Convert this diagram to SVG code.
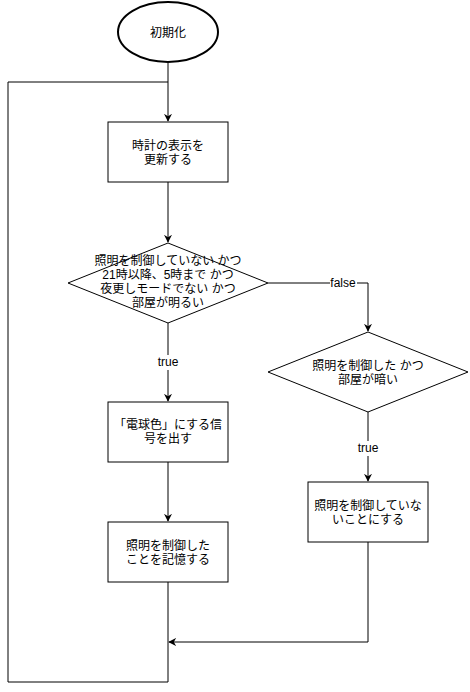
<svg xmlns="http://www.w3.org/2000/svg" width="470" height="692" viewBox="0 0 470 692">
<style>
.s{fill:#fff;stroke:#000;stroke-width:1}
.t{font-family:"Liberation Sans","Noto Sans CJK JP",sans-serif;font-size:12px;fill:#000;text-anchor:middle;dominant-baseline:central}
.c{fill:none;stroke:#000;stroke-width:1}
</style>
<defs>
<marker id="a" viewBox="0 0 10 10" refX="9" refY="5" markerWidth="8" markerHeight="8" markerUnits="userSpaceOnUse" orient="auto">
<path d="M0,0 L10,5 L0,10 L3,5 Z" fill="#000"/>
</marker>
</defs>
<rect width="470" height="692" fill="#fff"/>
<g id="connectors">
<path class="c" d="M168,63 V121" marker-end="url(#a)"/>
<path class="c" d="M168,182 V242" marker-end="url(#a)"/>
<path class="c" d="M168,323 V401" marker-end="url(#a)"/>
<path class="c" d="M268,283 H368 V331" marker-end="url(#a)"/>
<path class="c" d="M368,412 V481" marker-end="url(#a)"/>
<path class="c" d="M168,462 V521" marker-end="url(#a)"/>
<path class="c" d="M368,542 V642 H169" marker-end="url(#a)"/>
<path class="c" d="M168,582 V682 H8 V82 H168"/>
<rect x="155" y="355" width="26" height="15" fill="#fff"/>
<text class="t" x="168" y="362">true</text>
<rect x="330" y="276" width="27" height="15" fill="#fff"/>
<text class="t" x="343" y="283">false</text>
<rect x="355" y="441" width="26" height="15" fill="#fff"/>
<text class="t" x="368" y="448">true</text>
</g>
<g id="start">
<ellipse class="s" cx="168" cy="32" rx="50" ry="30" style="stroke-width:2"/>
<text class="t" x="168" y="33">初期化</text>
</g>
<g id="update-clock">
<rect class="s" x="108" y="122" width="120" height="60"/>
<text class="t" x="168" y="146">時計の表示を</text>
<text class="t" x="168" y="160">更新する</text>
</g>
<g id="cond1">
<path class="s" d="M168,243 L268,283 L168,323 L68,283 Z"/>
<text class="t" x="168" y="261">照明を制御していない かつ</text>
<text class="t" x="168" y="275">21時以降、5時まで かつ</text>
<text class="t" x="168" y="289">夜更しモードでない かつ</text>
<text class="t" x="168" y="303">部屋が明るい</text>
</g>
<g id="cond2">
<path class="s" d="M368,332 L468,372 L368,412 L268,372 Z"/>
<text class="t" x="368" y="366">照明を制御した かつ</text>
<text class="t" x="368" y="380">部屋が暗い</text>
</g>
<g id="signal">
<rect class="s" x="108" y="402" width="120" height="60"/>
<text class="t" x="168" y="425">「電球色」にする信</text>
<text class="t" x="168" y="439">号を出す</text>
</g>
<g id="remember">
<rect class="s" x="108" y="522" width="120" height="60"/>
<text class="t" x="168" y="546">照明を制御した</text>
<text class="t" x="168" y="560">ことを記憶する</text>
</g>
<g id="reset">
<rect class="s" x="308" y="482" width="120" height="60"/>
<text class="t" x="368" y="506">照明を制御していな</text>
<text class="t" x="368" y="520">いことにする</text>
</g>
</svg>
